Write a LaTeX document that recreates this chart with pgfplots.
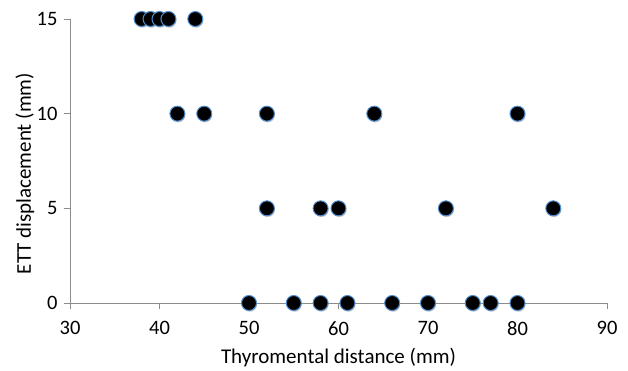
\documentclass[border=0pt]{standalone}
\usepackage{pgfplots}
\pgfplotsset{compat=1.18}
\usepackage{fontspec}
\setmainfont{Carlito}
\usetikzlibrary{calc}
\definecolor{mkedge}{HTML}{4F8CD0}
\definecolor{axgray}{HTML}{8C8C8C}
\begin{document}
\begin{tikzpicture}
\begin{axis}[
  name=ax,
  scale only axis,
  width=537pt, height=284pt,
  xmin=30, xmax=90, ymin=0, ymax=15,
  xtick={30,40,...,90}, ytick={0,5,10,15},
  axis lines*=left,
  axis line style={axgray, line width=0.8pt},
  tick style={axgray, line width=0.8pt},
  tick align=outside,
  major tick length=6pt,
  clip=false,
  tick label style={font=\fontsize{20.5}{22}\selectfont, black},
  xticklabel style={yshift=-9pt},
  yticklabel style={xshift=-3pt},
  /pgf/number format/assume math mode=true,
  xlabel={Thyromental distance (mm)},
  ylabel={ETT displacement (mm)},
  label style={font=\fontsize{21}{24}\selectfont, black},
  xlabel style={at={(axis description cs:0.5,0)}, anchor=center, yshift=-55pt},
  ylabel style={at={(axis description cs:0,0.456)}, anchor=center, yshift=45pt},
]
\addplot[only marks, mark=*, mark size=7pt, color=black!35, opacity=0.5,
  mark options={draw=none, fill=black!40, xshift=0.8pt, yshift=-1.5pt}]
  table {
x y
38 15
39 15
40 15
41 15
44 15
42 10
45 10
52 10
64 10
80 10
52 5
58 5
60 5
72 5
84 5
50 0
55 0
58 0
61 0
66 0
70 0
75 0
77 0
80 0
};
\addplot[only marks, mark=*, mark size=7.5pt,
  mark options={draw=mkedge, fill=black, line width=1pt}]
  table {
x y
38 15
39 15
40 15
41 15
44 15
42 10
45 10
52 10
64 10
80 10
52 5
58 5
60 5
72 5
84 5
50 0
55 0
58 0
61 0
66 0
70 0
75 0
77 0
80 0
};
\end{axis}
\pgfresetboundingbox
\path[use as bounding box] ($(ax.south west)+(-70pt,-67pt)$) rectangle ($(ax.north east)+(21pt,19pt)$);
\end{tikzpicture}
\end{document}
